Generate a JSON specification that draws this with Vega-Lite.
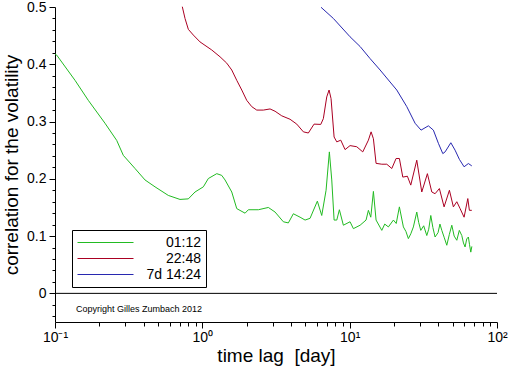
{
  "$schema": "https://vega.github.io/schema/vega-lite/v6.json",
  "width": 442,
  "height": 315,
  "autosize": "none",
  "padding": {"left": 55, "top": 7, "right": 15, "bottom": 44},
  "config": {
    "view": {"stroke": null},
    "font": "Liberation Sans",
    "axis": {"domainColor": "black", "tickColor": "black", "labelColor": "black", "titleColor": "black", "grid": false, "titleFontWeight": "normal", "labelFontSize": 14, "titleFontSize": 19, "labelOverlap": false}
  },
  "resolve": {"axis": {"x": "independent", "y": "independent"}},
  "datasets": {
    "curves": [
      {"s": "01:12", "x": 0.1, "y": 0.418},
      {"s": "01:12", "x": 0.1027, "y": 0.416},
      {"s": "01:12", "x": 0.1367, "y": 0.372},
      {"s": "01:12", "x": 0.1683, "y": 0.337},
      {"s": "01:12", "x": 0.2185, "y": 0.297},
      {"s": "01:12", "x": 0.2624, "y": 0.267},
      {"s": "01:12", "x": 0.2908, "y": 0.241},
      {"s": "01:12", "x": 0.3493, "y": 0.218},
      {"s": "01:12", "x": 0.4083, "y": 0.198},
      {"s": "01:12", "x": 0.4774, "y": 0.186},
      {"s": "01:12", "x": 0.5877, "y": 0.171},
      {"s": "01:12", "x": 0.7055, "y": 0.164},
      {"s": "01:12", "x": 0.8035, "y": 0.165},
      {"s": "01:12", "x": 0.892, "y": 0.177},
      {"s": "01:12", "x": 1.016, "y": 0.186},
      {"s": "01:12", "x": 1.098, "y": 0.2005},
      {"s": "01:12", "x": 1.253, "y": 0.209},
      {"s": "01:12", "x": 1.354, "y": 0.206},
      {"s": "01:12", "x": 1.426, "y": 0.198},
      {"s": "01:12", "x": 1.584, "y": 0.177},
      {"s": "01:12", "x": 1.712, "y": 0.148},
      {"s": "01:12", "x": 1.95, "y": 0.14},
      {"s": "01:12", "x": 2.053, "y": 0.146},
      {"s": "01:12", "x": 2.4, "y": 0.146},
      {"s": "01:12", "x": 2.806, "y": 0.15},
      {"s": "01:12", "x": 3.116, "y": 0.142},
      {"s": "01:12", "x": 3.547, "y": 0.125},
      {"s": "01:12", "x": 3.836, "y": 0.123},
      {"s": "01:12", "x": 4.147, "y": 0.139},
      {"s": "01:12", "x": 4.606, "y": 0.133},
      {"s": "01:12", "x": 4.981, "y": 0.128},
      {"s": "01:12", "x": 5.385, "y": 0.131},
      {"s": "01:12", "x": 6.035, "y": 0.161},
      {"s": "01:12", "x": 6.464, "y": 0.136},
      {"s": "01:12", "x": 6.915, "y": 0.18},
      {"s": "01:12", "x": 7.281, "y": 0.247},
      {"s": "01:12", "x": 7.558, "y": 0.198},
      {"s": "01:12", "x": 7.84, "y": 0.128},
      {"s": "01:12", "x": 8.177, "y": 0.128},
      {"s": "01:12", "x": 8.515, "y": 0.146},
      {"s": "01:12", "x": 9.063, "y": 0.119},
      {"s": "01:12", "x": 10.06, "y": 0.125},
      {"s": "01:12", "x": 10.6, "y": 0.113},
      {"s": "01:12", "x": 11.77, "y": 0.119},
      {"s": "01:12", "x": 12.92, "y": 0.128},
      {"s": "01:12", "x": 13.4, "y": 0.145},
      {"s": "01:12", "x": 13.91, "y": 0.133},
      {"s": "01:12", "x": 14.49, "y": 0.178},
      {"s": "01:12", "x": 15.11, "y": 0.128},
      {"s": "01:12", "x": 16.52, "y": 0.11},
      {"s": "01:12", "x": 17.3, "y": 0.121},
      {"s": "01:12", "x": 18.31, "y": 0.116},
      {"s": "01:12", "x": 19.81, "y": 0.128},
      {"s": "01:12", "x": 20.7, "y": 0.122},
      {"s": "01:12", "x": 21.75, "y": 0.151},
      {"s": "01:12", "x": 23.15, "y": 0.116},
      {"s": "01:12", "x": 24.1, "y": 0.108},
      {"s": "01:12", "x": 25.03, "y": 0.0956},
      {"s": "01:12", "x": 26.0, "y": 0.104},
      {"s": "01:12", "x": 27.07, "y": 0.116},
      {"s": "01:12", "x": 28.54, "y": 0.142},
      {"s": "01:12", "x": 29.4, "y": 0.124},
      {"s": "01:12", "x": 30.38, "y": 0.11},
      {"s": "01:12", "x": 31.8, "y": 0.118},
      {"s": "01:12", "x": 33.38, "y": 0.101},
      {"s": "01:12", "x": 34.4, "y": 0.112},
      {"s": "01:12", "x": 35.53, "y": 0.136},
      {"s": "01:12", "x": 36.7, "y": 0.115},
      {"s": "01:12", "x": 38.0, "y": 0.0984},
      {"s": "01:12", "x": 39.8, "y": 0.106},
      {"s": "01:12", "x": 41.0, "y": 0.121},
      {"s": "01:12", "x": 42.21, "y": 0.11},
      {"s": "01:12", "x": 43.9, "y": 0.097},
      {"s": "01:12", "x": 45.63, "y": 0.084},
      {"s": "01:12", "x": 47.5, "y": 0.103},
      {"s": "01:12", "x": 49.34, "y": 0.119},
      {"s": "01:12", "x": 51.2, "y": 0.1},
      {"s": "01:12", "x": 53.35, "y": 0.0927},
      {"s": "01:12", "x": 55.5, "y": 0.11},
      {"s": "01:12", "x": 57.68, "y": 0.101},
      {"s": "01:12", "x": 59.2, "y": 0.088},
      {"s": "01:12", "x": 60.73, "y": 0.081},
      {"s": "01:12", "x": 62.3, "y": 0.095},
      {"s": "01:12", "x": 63.94, "y": 0.0984},
      {"s": "01:12", "x": 65.1, "y": 0.085},
      {"s": "01:12", "x": 66.39, "y": 0.072},
      {"s": "01:12", "x": 67.5, "y": 0.082},
      {"s": "22:48", "x": 0.7313, "y": 0.5005},
      {"s": "22:48", "x": 0.7629, "y": 0.48},
      {"s": "22:48", "x": 0.8035, "y": 0.461},
      {"s": "22:48", "x": 0.869, "y": 0.451},
      {"s": "22:48", "x": 0.9647, "y": 0.439},
      {"s": "22:48", "x": 1.158, "y": 0.425},
      {"s": "22:48", "x": 1.319, "y": 0.413},
      {"s": "22:48", "x": 1.464, "y": 0.402},
      {"s": "22:48", "x": 1.584, "y": 0.39},
      {"s": "22:48", "x": 1.712, "y": 0.372},
      {"s": "22:48", "x": 1.852, "y": 0.355},
      {"s": "22:48", "x": 2.002, "y": 0.337},
      {"s": "22:48", "x": 2.165, "y": 0.326},
      {"s": "22:48", "x": 2.341, "y": 0.32},
      {"s": "22:48", "x": 2.595, "y": 0.32},
      {"s": "22:48", "x": 2.882, "y": 0.322},
      {"s": "22:48", "x": 3.116, "y": 0.318},
      {"s": "22:48", "x": 3.459, "y": 0.31},
      {"s": "22:48", "x": 3.938, "y": 0.304},
      {"s": "22:48", "x": 4.374, "y": 0.2955},
      {"s": "22:48", "x": 4.851, "y": 0.282},
      {"s": "22:48", "x": 5.243, "y": 0.28},
      {"s": "22:48", "x": 5.733, "y": 0.2955},
      {"s": "22:48", "x": 6.364, "y": 0.295},
      {"s": "22:48", "x": 6.627, "y": 0.305},
      {"s": "22:48", "x": 6.989, "y": 0.343},
      {"s": "22:48", "x": 7.247, "y": 0.355},
      {"s": "22:48", "x": 7.476, "y": 0.34},
      {"s": "22:48", "x": 7.84, "y": 0.273},
      {"s": "22:48", "x": 8.177, "y": 0.2645},
      {"s": "22:48", "x": 8.701, "y": 0.2675},
      {"s": "22:48", "x": 9.307, "y": 0.251},
      {"s": "22:48", "x": 10.06, "y": 0.258},
      {"s": "22:48", "x": 11.17, "y": 0.256},
      {"s": "22:48", "x": 12.27, "y": 0.247},
      {"s": "22:48", "x": 13.4, "y": 0.2675},
      {"s": "22:48", "x": 13.98, "y": 0.282},
      {"s": "22:48", "x": 14.49, "y": 0.27},
      {"s": "22:48", "x": 15.11, "y": 0.227},
      {"s": "22:48", "x": 16.52, "y": 0.2255},
      {"s": "22:48", "x": 17.86, "y": 0.2255},
      {"s": "22:48", "x": 19.32, "y": 0.218},
      {"s": "22:48", "x": 20.65, "y": 0.2355},
      {"s": "22:48", "x": 21.75, "y": 0.2355},
      {"s": "22:48", "x": 22.94, "y": 0.203},
      {"s": "22:48", "x": 24.65, "y": 0.2045},
      {"s": "22:48", "x": 25.99, "y": 0.189},
      {"s": "22:48", "x": 28.54, "y": 0.2325},
      {"s": "22:48", "x": 30.86, "y": 0.177},
      {"s": "22:48", "x": 33.7, "y": 0.209},
      {"s": "22:48", "x": 36.09, "y": 0.177},
      {"s": "22:48", "x": 38.0, "y": 0.174},
      {"s": "22:48", "x": 40.64, "y": 0.183},
      {"s": "22:48", "x": 43.74, "y": 0.151},
      {"s": "22:48", "x": 47.53, "y": 0.18},
      {"s": "22:48", "x": 50.58, "y": 0.151},
      {"s": "22:48", "x": 53.35, "y": 0.16},
      {"s": "22:48", "x": 56.18, "y": 0.148},
      {"s": "22:48", "x": 59.78, "y": 0.133},
      {"s": "22:48", "x": 63.36, "y": 0.1655},
      {"s": "22:48", "x": 64.95, "y": 0.145},
      {"s": "22:48", "x": 67.44, "y": 0.145},
      {"s": "7d 14:24", "x": 6.393, "y": 0.4995},
      {"s": "7d 14:24", "x": 7.753, "y": 0.48},
      {"s": "7d 14:24", "x": 10.06, "y": 0.448},
      {"s": "7d 14:24", "x": 11.77, "y": 0.431},
      {"s": "7d 14:24", "x": 13.75, "y": 0.41},
      {"s": "7d 14:24", "x": 16.09, "y": 0.39},
      {"s": "7d 14:24", "x": 18.81, "y": 0.369},
      {"s": "7d 14:24", "x": 20.88, "y": 0.355},
      {"s": "7d 14:24", "x": 24.42, "y": 0.326},
      {"s": "7d 14:24", "x": 27.8, "y": 0.297},
      {"s": "7d 14:24", "x": 30.52, "y": 0.285},
      {"s": "7d 14:24", "x": 34.22, "y": 0.2925},
      {"s": "7d 14:24", "x": 37.0, "y": 0.285},
      {"s": "7d 14:24", "x": 40.01, "y": 0.262},
      {"s": "7d 14:24", "x": 42.87, "y": 0.244},
      {"s": "7d 14:24", "x": 44.44, "y": 0.247},
      {"s": "7d 14:24", "x": 48.6, "y": 0.263},
      {"s": "7d 14:24", "x": 51.94, "y": 0.25},
      {"s": "7d 14:24", "x": 55.55, "y": 0.234},
      {"s": "7d 14:24", "x": 59.78, "y": 0.221},
      {"s": "7d 14:24", "x": 63.94, "y": 0.2267},
      {"s": "7d 14:24", "x": 67.44, "y": 0.2226}
    ],
    "zero": [{"y": 0}],
    "note": [{"x": 0.372, "y": -0.0267, "t": "Copyright Gilles Zumbach 2012"}]
  },
  "layer": [
    {
      "data": {"name": "curves"},
      "mark": {"type": "line", "strokeWidth": 1},
      "encoding": {
        "x": {
          "field": "x", "type": "quantitative",
          "scale": {"type": "log", "domain": [0.1, 100], "nice": false},
          "axis": {
            "orient": "bottom",
            "values": [0.1, 0.2, 0.3, 0.4, 0.5, 0.6, 0.7, 0.8, 0.9, 1, 2, 3, 4, 5, 6, 7, 8, 9, 10, 20, 30, 40, 50, 60, 70, 80, 90, 100],
            "labelExpr": "datum.value == 0.1 ? '10⁻¹' : datum.value == 1 ? '10⁰' : datum.value == 10 ? '10¹' : datum.value == 100 ? '10²' : ''",
            "tickSize": {"condition": {"test": "datum.value == 0.1 || datum.value == 1 || datum.value == 10 || datum.value == 100", "value": 6}, "value": 4},
            "labelPadding": 2,
            "labelFlush": false,
            "title": "time lag\u00a0\u00a0[day]",
            "titlePadding": 2
          }
        },
        "y": {
          "field": "y", "type": "quantitative",
          "scale": {"domain": [-0.05, 0.5], "nice": false, "zero": false},
          "axis": {
            "orient": "left",
            "values": [-0.04, -0.02, 0, 0.02, 0.04, 0.06, 0.08, 0.1, 0.12, 0.14, 0.16, 0.18, 0.2, 0.22, 0.24, 0.26, 0.28, 0.3, 0.32, 0.34, 0.36, 0.38, 0.4, 0.42, 0.44, 0.46, 0.48, 0.5],
            "labelExpr": "abs(datum.value * 10 - round(datum.value * 10)) < 0.001 && datum.value >= 0 ? (datum.value == 0 ? '0' : format(datum.value, '.1f')) : ''",
            "tickSize": {"condition": {"test": "abs(datum.value * 10 - round(datum.value * 10)) < 0.001", "value": 6}, "value": 3},
            "labelPadding": 3,
            "title": "correlation for the volatility",
            "titlePadding": 5
          }
        },
        "color": {
          "field": "s", "type": "nominal",
          "scale": {"domain": ["01:12", "22:48", "7d 14:24"], "range": ["#22bb22", "#aa0022", "#2828b0"]},
          "legend": {
            "orient": "none", "legendX": 17, "legendY": 223, "title": null,
            "symbolType": "M-4,0H4", "symbolSize": 196, "symbolStrokeWidth": 1, "symbolOffset": 21,
            "labelAlign": "right", "labelOffset": 88, "labelFontSize": 14, "labelColor": "black",
            "strokeColor": "black", "fillColor": "white", "padding": 5, "rowPadding": 1
          }
        }
      }
    },
    {
      "data": {"name": "zero"},
      "mark": {"type": "rule", "color": "black", "strokeWidth": 1},
      "encoding": {
        "y": {"field": "y", "type": "quantitative", "axis": null}
      }
    },
    {
      "data": {"name": "note"},
      "mark": {"type": "text", "fontSize": 9, "align": "center", "baseline": "middle", "color": "black"},
      "encoding": {
        "x": {"field": "x", "type": "quantitative", "axis": null},
        "y": {"field": "y", "type": "quantitative", "axis": null},
        "text": {"field": "t"}
      }
    }
  ]
}
